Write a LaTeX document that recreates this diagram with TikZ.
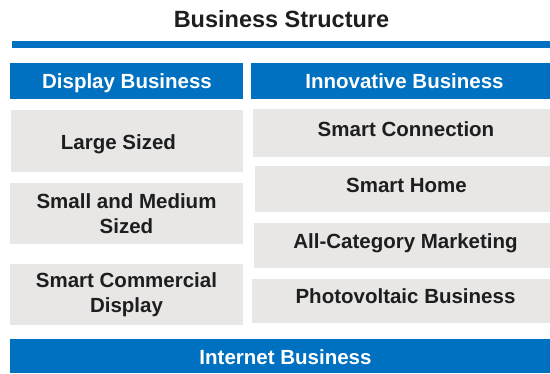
\documentclass[tikz,border=0pt]{standalone}
\usepackage{fontspec}
\setmainfont{Liberation Sans}
\definecolor{bizblue}{HTML}{0070C0}
\definecolor{boxgray}{HTML}{E8E7E6}
\definecolor{txtdark}{HTML}{1E1E1E}
\tikzset{
  hdr/.style={fill=bizblue, inner sep=0pt},
  hdrtext/.style={inner sep=0pt, anchor=base, text=white, font=\fontsize{20.5}{25}\selectfont\bfseries},
  gbox/.style={fill=boxgray, inner sep=0pt},
  gtext/.style={inner sep=0pt, anchor=base, text=txtdark, font=\fontsize{20.5}{25}\selectfont\bfseries},
  gtext2/.style={inner sep=0pt, text=txtdark, align=center, font=\fontsize{20.5}{25}\selectfont\bfseries},
}
\begin{document}
\begin{tikzpicture}[x=1pt,y=-1pt]
\useasboundingbox (0,0) rectangle (550,373);
\node[inner sep=0pt, anchor=base, text=txtdark, font=\fontsize{23.5}{28}\selectfont\bfseries] (title) at (281.5,27) {Business Structure};
\node[fill=bizblue, inner sep=0pt, minimum width=538pt, minimum height=7pt] (rule) at (281,44.5) {};
% headers
\node[hdr, minimum width=233pt, minimum height=36pt] (dh) at (126.5,81) {};
\node[hdrtext] (dht) at (127,88) {Display Business};
\node[hdr, minimum width=299pt, minimum height=36pt] (ih) at (400.5,81) {};
\node[hdrtext] (iht) at (404.5,88) {Innovative Business};
% left column
\node[gbox, minimum width=232pt, minimum height=62pt] (ls) at (127,141) {};
\node[gtext] (lst) at (118.5,149) {Large Sized};
\node[gbox, minimum width=233pt, minimum height=61pt] (sm) at (126.5,213.5) {};
\node[gtext2] (smt) at (sm.center) {Small and Medium\\Sized};
\node[gbox, minimum width=233pt, minimum height=61pt] (sc) at (126.5,294.5) {};
\node[gtext2] (sct) at (sc.center) {Smart Commercial\\Display};
% right column
\node[gbox, minimum width=297pt, minimum height=48pt] (cn) at (401.5,133) {};
\node[gtext] (cnt) at (406,136) {Smart Connection};
\node[gbox, minimum width=295pt, minimum height=46pt] (hm) at (402.5,189) {};
\node[gtext] (hmt) at (406.5,192) {Smart Home};
\node[gbox, minimum width=296pt, minimum height=45pt] (ac) at (402,245.5) {};
\node[gtext] (act) at (405.5,248) {All-Category Marketing};
\node[gbox, minimum width=298pt, minimum height=44pt] (pv) at (401,301) {};
\node[gtext] (pvt) at (405.5,303) {Photovoltaic Business};
% bottom bar
\node[hdr, minimum width=540pt, minimum height=34pt] (ib) at (280,356) {};
\node[hdrtext] (ibt) at (285.5,364) {Internet Business};
\end{tikzpicture}
\end{document}
